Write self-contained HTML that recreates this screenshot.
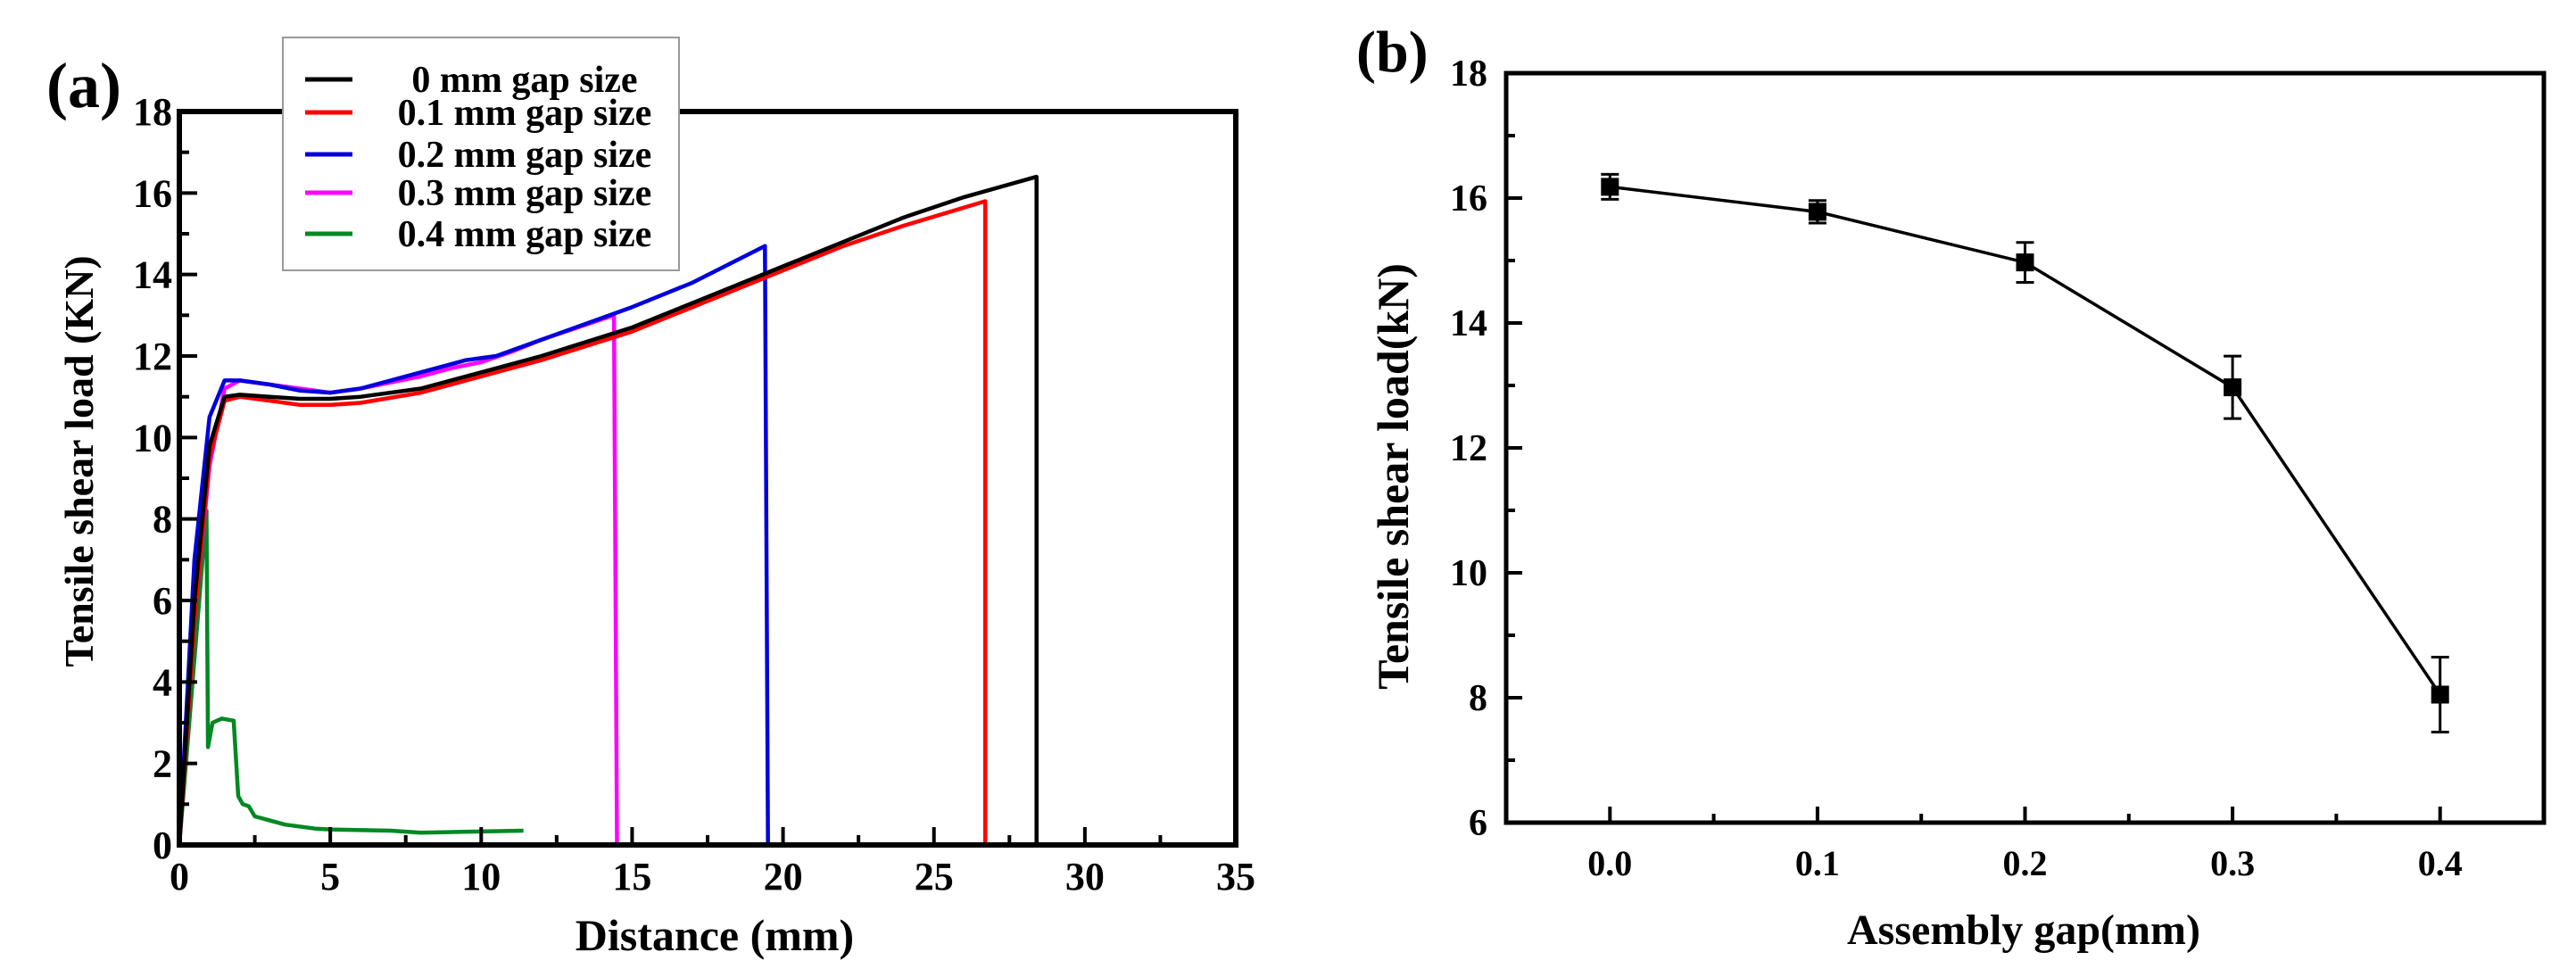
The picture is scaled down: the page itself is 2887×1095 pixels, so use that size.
<!DOCTYPE html>
<html><head><meta charset="utf-8"><style>
html,body{margin:0;padding:0;background:#fff;}
svg{display:block;font-family:"Liberation Serif",serif;font-weight:bold;}
</style></head><body>
<svg id="fig" width="2887" height="1095" viewBox="0 0 2887 1095" xmlns="http://www.w3.org/2000/svg">
<g id="pa"></g>
<g id="pb"></g>
</svg>
<script>
// Panel (a) data
const seriesNames = ["0 mm gap size","0.1 mm gap size","0.2 mm gap size","0.3 mm gap size","0.4 mm gap size"];
const seriesColors = ["#000000","#ff0000","#0000dd","#ff00ff","#008822"];
const dist0 = [0,0.5,1,1.5,2,3,4,5,6,8,10,12,15,18,20,22,24,26,28.4,28.4];
const load0 = [0,6,9.8,11,11.05,11,10.95,10.95,11,11.2,11.6,12,12.7,13.6,14.2,14.8,15.4,15.9,16.4,0];
const dist1 = [0,0.5,1,1.5,2,3,4,5,6,8,10,12,15,18,20,22,24,26.7,26.7];
const load1 = [0,5.5,9.5,10.9,11,10.9,10.8,10.8,10.85,11.1,11.5,11.9,12.6,13.5,14.1,14.7,15.2,15.8,0];
const dist2 = [0,0.5,1,1.5,2,3,4,5,6,8,9.5,10.5,12,15,17,19.4,19.5];
const load2 = [0,7,10.5,11.4,11.4,11.3,11.15,11.1,11.2,11.6,11.9,12.0,12.4,13.2,13.8,14.7,0];
const dist3 = [0,0.5,1,1.5,2,3,4,5,6,8,9,10,11,12,14.4,14.5];
const load3 = [0,5.5,9.3,11.2,11.4,11.3,11.2,11.1,11.2,11.5,11.7,11.85,12.1,12.4,13.0,0];
const dist4 = [0,0.9,0.95,1.1,1.4,1.8,1.95,2.1,2.3,2.5,3,3.5,4.5,5,7,8,10,11.4];
const load4 = [0,8.2,2.4,3.0,3.1,3.05,1.2,1.0,0.95,0.7,0.6,0.5,0.4,0.38,0.35,0.3,0.33,0.35];
const xTicksA = [0,5,10,15,20,25,30,35];
const yTicksA = [0,2,4,6,8,10,12,14,16,18];
// Panel (b) data
const gaps = [0.0,0.1,0.2,0.3,0.4];
const shearLoad = [16.18,15.78,14.97,12.97,8.05];
const loadErr = [0.2,0.18,0.32,0.5,0.6];
const xTicksB = [0.0,0.1,0.2,0.3,0.4];
const yTicksB = [6,8,10,12,14,16,18];

const NS="http://www.w3.org/2000/svg";
function mk(parent,tag,attrs){const e=document.createElementNS(NS,tag);for(const k in attrs)e.setAttribute(k,attrs[k]);parent.appendChild(e);return e;}

// ---------- Panel A ----------
const pa=document.getElementById('pa');
const A={l:201,r:1385,t:125,b:947,x0:0,x1:35,y0:0,y1:18};
const ax=v=>A.l+(v-A.x0)/(A.x1-A.x0)*(A.r-A.l);
const ay=v=>A.b-(v-A.y0)/(A.y1-A.y0)*(A.b-A.t);
const dists=[dist0,dist1,dist2,dist3,dist4], loads=[load0,load1,load2,load3,load4];
for(let s=4;s>=0;s--){
  const d=dists[s].map((x,i)=>(i?'L':'M')+ax(x).toFixed(1)+','+ay(loads[s][i]).toFixed(1)).join(' ');
  const p=mk(pa,'path',{d:d,fill:'none',stroke:seriesColors[s],'stroke-width':4.5,'stroke-linejoin':'round'});
  
  
}
const fa=mk(pa,'rect',{x:A.l,y:A.t,width:A.r-A.l,height:A.b-A.t,fill:'none',stroke:'#000','stroke-width':6});


xTicksA.forEach((v,i)=>{
  const x=ax(v);
  const t=mk(pa,'line',{x1:x,x2:x,y1:A.b,y2:A.b-20,stroke:'#000','stroke-width':4});
  
  
  if(i<xTicksA.length-1){const m=mk(pa,'line',{x1:ax(v+2.5),x2:ax(v+2.5),y1:A.b,y2:A.b-11,stroke:'#000','stroke-width':4});
    
    }
  const lb=mk(pa,'text',{x:x,y:997,'font-size':44,'text-anchor':'middle'});lb.textContent=v;
  
  
});
yTicksA.forEach((v,i)=>{
  const y=ay(v);
  const t=mk(pa,'line',{x1:A.l,x2:A.l+20,y1:y,y2:y,stroke:'#000','stroke-width':4});
  
  
  if(i<yTicksA.length-1){const m=mk(pa,'line',{x1:A.l,x2:A.l+11,y1:ay(v+1),y2:ay(v+1),stroke:'#000','stroke-width':4});
    
    }
  const lb=mk(pa,'text',{x:193,y:y+15,'font-size':44,'text-anchor':'end'});lb.textContent=v;
  
  
});
let tx=mk(pa,'text',{x:801,y:1065,'font-size':50,'text-anchor':'middle'});tx.textContent='Distance (mm)';


tx=mk(pa,'text',{x:0,y:0,'font-size':46,'text-anchor':'middle',transform:'translate(104,517) rotate(-90)'});tx.textContent='Tensile shear load (KN)';


tx=mk(pa,'text',{x:52,y:120,'font-size':72});tx.textContent='(a)';


// legend
const lg=mk(pa,'g',{});


mk(lg,'rect',{x:317,y:42,width:444,height:261,fill:'#fff',stroke:'#999','stroke-width':2});
const rowsY=[89,126,173,216,262];
seriesNames.forEach((n,i)=>{
  const ln=mk(lg,'line',{x1:342,x2:395,y1:rowsY[i],y2:rowsY[i],stroke:seriesColors[i],'stroke-width':5});
  
  
  const t=mk(lg,'text',{x:588,y:rowsY[i]+14,'font-size':42,'text-anchor':'middle'});t.textContent=n;
  
  
});

// ---------- Panel B ----------
const pb=document.getElementById('pb');
const B={l:1688,r:2851,t:82,b:922,x0:-0.05,x1:0.45,y0:6,y1:18};
const bx=v=>B.l+(v-B.x0)/(B.x1-B.x0)*(B.r-B.l);
const by=v=>B.b-(v-B.y0)/(B.y1-B.y0)*(B.b-B.t);
const fb=mk(pb,'rect',{x:B.l,y:B.t,width:B.r-B.l,height:B.b-B.t,fill:'none',stroke:'#000','stroke-width':5});


xTicksB.forEach((v,i)=>{
  const x=bx(v);
  const t=mk(pb,'line',{x1:x,x2:x,y1:B.b,y2:B.b-18,stroke:'#000','stroke-width':4});
  
  
  if(i<xTicksB.length-1){const m=mk(pb,'line',{x1:bx(v+0.05),x2:bx(v+0.05),y1:B.b,y2:B.b-10,stroke:'#000','stroke-width':4});
    
    }
  const lb=mk(pb,'text',{x:x,y:981,'font-size':40,'text-anchor':'middle'});lb.textContent=v.toFixed(1);
  
  
});
yTicksB.forEach((v,i)=>{
  const y=by(v);
  const t=mk(pb,'line',{x1:B.l,x2:B.l+18,y1:y,y2:y,stroke:'#000','stroke-width':4});
  
  
  if(i<yTicksB.length-1){const m=mk(pb,'line',{x1:B.l,x2:B.l+10,y1:by(v+1),y2:by(v+1),stroke:'#000','stroke-width':4});
    
    }
  const lb=mk(pb,'text',{x:1667,y:y+14,'font-size':42,'text-anchor':'end'});lb.textContent=v;
  
  
});
const lineD=gaps.map((g,i)=>(i?'L':'M')+bx(g).toFixed(1)+','+by(shearLoad[i]).toFixed(1)).join(' ');
const pl=mk(pb,'path',{d:lineD,fill:'none',stroke:'#000','stroke-width':3.5});


gaps.forEach((g,i)=>{
  const x=bx(g),y=by(shearLoad[i]),yt=by(shearLoad[i]+loadErr[i]),yb=by(shearLoad[i]-loadErr[i]);
  const e=mk(pb,'path',{d:`M${x},${yt}L${x},${yb}M${x-10},${yt}L${x+10},${yt}M${x-10},${yb}L${x+10},${yb}`,stroke:'#000','stroke-width':3,fill:'none'});
  
  
  const m=mk(pb,'rect',{x:x-10,y:y-10,width:20,height:20,fill:'#000'});
  
  
});
tx=mk(pb,'text',{x:2268,y:1058,'font-size':48,'text-anchor':'middle'});tx.textContent='Assembly gap(mm)';


tx=mk(pb,'text',{x:0,y:0,'font-size':50,'text-anchor':'middle',transform:'translate(1578,534) rotate(-90)'});tx.textContent='Tensile shear load(kN)';


tx=mk(pb,'text',{x:1520,y:80,'font-size':66});tx.textContent='(b)';


</script>
</body></html>
